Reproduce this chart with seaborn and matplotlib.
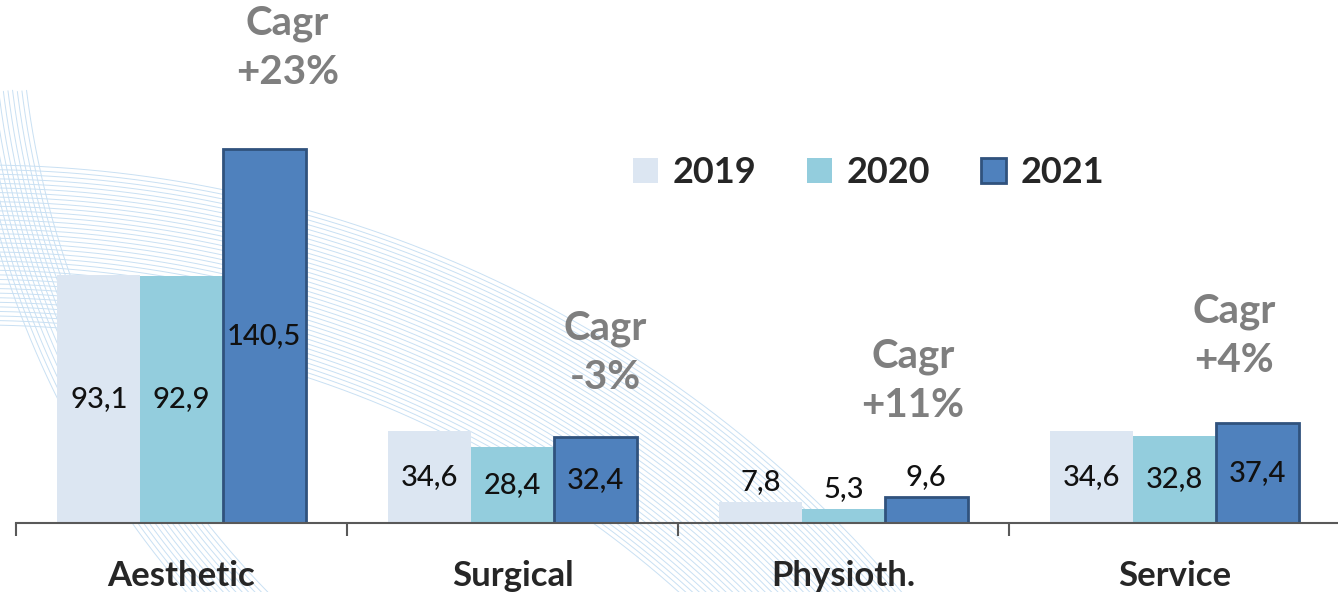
import pandas as pd
import numpy as np
import seaborn as sns
import matplotlib.pyplot as plt


# Chart data
categories = ["Aesthetic", "Surgical", "Physioth.", "Service"]
years = ["2019", "2020", "2021"]
v2019 = [93.1, 34.6, 7.8, 34.6]
v2020 = [92.9, 28.4, 5.3, 32.8]
v2021 = [140.5, 32.4, 9.6, 37.4]
cagr = ["+23%", "-3%", "+11%", "+4%"]

colors = ["#dce6f2", "#93cddd", "#4f81bd"]

df = pd.DataFrame({
    "category": categories * 3,
    "year": [y for y in years for _ in categories],
    "value": v2019 + v2020 + v2021,
})

sns.set_style("white")
plt.rcParams["font.family"] = ["Lato", "DejaVu Sans"]

fig = plt.figure(figsize=(13.38, 5.92), dpi=100)

# decorative background swirl (pixel space)
bg = fig.add_axes([0, 0, 1, 1], zorder=-1)
bg.set_xlim(0, 1338)
bg.set_ylim(592, 0)
bg.axis("off")
t = np.linspace(0, 2 * np.pi, 3000)
for r in np.linspace(1048, 1208, 36):
    bg.plot(-20 + r * np.cos(t), 1373 + r * np.sin(t), color="#c9e0f3", lw=0.7)
for r in np.linspace(870, 930, 14):
    yy = -16 + r * np.sin(t)
    xx = 890 + r * np.cos(t)
    yy = np.where(yy < 90, np.nan, yy)
    bg.plot(xx, yy, color="#c9e0f3", lw=0.7)

ax = fig.add_axes([16 / 1338, 69 / 592, 1324 / 1338, 523 / 592])

sns.barplot(data=df, x="category", y="value", hue="year", hue_order=years,
            palette=colors, saturation=1, width=0.75, gap=0,
            edgecolor="none", linewidth=0, ax=ax)

# darker outline on the 2021 bars
for bar in ax.containers[2]:
    bar.set_edgecolor("#30527d")
    bar.set_linewidth(2)

# value labels: inside the bar, above it when the bar is too short
vals = [v2019, v2020, v2021]
for i, cont in enumerate(ax.containers):
    for j, bar in enumerate(cont):
        v = vals[i][j]
        x = bar.get_x() + bar.get_width() / 2
        txt = f"{v:.1f}".replace(".", ",")
        if v < 15:
            ax.annotate(txt, (x, v), xytext=(0, 5), textcoords="offset points",
                        ha="center", va="bottom", fontsize=21,
                        fontweight="medium", color="#111111")
        else:
            ax.text(x, v / 2, txt, ha="center", va="center",
                    fontsize=21, fontweight="medium", color="#111111")

# Cagr notes near the 2021 bars
cagr_dx = [0.32, 0.28, 0.21, 0.18]
cagr_dy = [73, 60, 84, 63]
for j, c in enumerate(cagr):
    ax.annotate(f"Cagr\n{c}", (j + cagr_dx[j], v2021[j]),
                xytext=(0, cagr_dy[j]), textcoords="offset points",
                ha="center", va="center", fontsize=29, fontweight="bold",
                color="#7f7f7f", linespacing=1.4, annotation_clip=False)

ax.set_ylim(0, 196.5)
ax.set_xlim(-0.5, 3.5)
ax.set_xlabel("")
ax.set_ylabel("")
ax.set_yticks([])
ax.set_xticks(range(len(categories)))
ax.set_xticklabels(categories, fontsize=25, fontweight="bold")
ax.set_xticks(np.arange(-0.5, 4, 1), minor=True)
ax.tick_params(axis="x", which="major", length=0, pad=27)
ax.tick_params(axis="x", which="minor", length=9, width=1.5,
               color="#595959", direction="out", bottom=True)
for s in ["left", "top", "right"]:
    ax.spines[s].set_visible(False)
ax.spines["bottom"].set_color("#595959")
ax.spines["bottom"].set_linewidth(1.5)
ax.patch.set_alpha(0)

sns.move_legend(ax, loc="center", bbox_to_anchor=(0.649, 0.708),
                bbox_transform=fig.transFigure, ncol=3, frameon=False,
                title=None, prop={"weight": "bold", "size": 26},
                handlelength=0.7, handleheight=0.7, handletextpad=0.4,
                columnspacing=1.4)
leg = ax.get_legend()
leg.legend_handles[2].set_edgecolor("#30527d")
leg.legend_handles[2].set_linewidth(2)

fig.savefig("out.png", dpi=100)
